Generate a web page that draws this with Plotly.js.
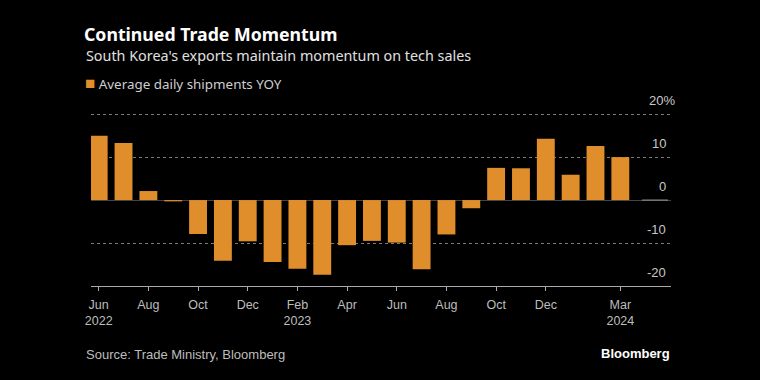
<!DOCTYPE html>
<html><head><meta charset="utf-8">
<script src="https://cdn.plot.ly/plotly-3.0.1.min.js"></script>
<style>html,body{margin:0;padding:0;background:#000;}</style>
</head><body><div id="chart" style="width:760px;height:380px;"></div>
<script>
const months = ["2022-06","2022-07","2022-08","2022-09","2022-10","2022-11","2022-12",
  "2023-01","2023-02","2023-03","2023-04","2023-05","2023-06","2023-07","2023-08",
  "2023-09","2023-10","2023-11","2023-12","2024-01","2024-02","2024-03"];
const shipmentsYoY = [15.0, 13.3, 2.1, -0.3, -7.9, -14.1, -9.6, -14.4, -16.0, -17.4, -10.5,
  -9.5, -9.9, -16.1, -8.0, -1.9, 7.5, 7.4, 14.3, 5.9, 12.6, 10.0];
const tickMonths = ["2022-06","2022-08","2022-10","2022-12","2023-02","2023-04","2023-06",
  "2023-08","2023-10","2023-12","2024-03"];
const tickLabels = ["Jun<br>2022","Aug","Oct","Dec","Feb<br>2023","Apr","Jun","Aug","Oct","Dec","Mar<br>2024"];
const yTicks = [-20, -10, 0, 10, 20];
const yTickLabels = ["-20", "-10", "0", "10", "20%"];
const seriesName = "Average daily shipments YOY";

const orange = "#E08E2B";
const sansNarrow = "Liberation Sans, Arial, sans-serif";
const sansWide = "Noto Sans, Open Sans, sans-serif";

const L = 91, R = 671, T = 112, B = 286;
const px2x = p => (p - L) / (R - L);
const px2y = p => (B - p) / (B - T);

const data = [{
  type: "bar",
  x: months,
  y: shipmentsYoY,
  name: seriesName,
  marker: {color: orange},
  hoverinfo: "x+y"
}];

const yLabelAnnotations = yTicks.map((v, i) => ({
  text: yTickLabels[i],
  xref: "paper", yref: "y",
  x: yTickLabels[i].includes("%") ? px2x(677) : px2x(668),
  y: v,
  xanchor: "right", yanchor: "bottom", yshift: 4,
  showarrow: false,
  font: {family: sansNarrow, size: 13, color: "#c8c8c8"}
}));

const layout = {
  width: 760, height: 380,
  paper_bgcolor: "#000", plot_bgcolor: "#000",
  margin: {l: L, r: 760 - R, t: T, b: 380 - B},
  showlegend: false,
  bargap: 0.28,
  title: {
    text: "<b>Continued Trade Momentum</b>",
    x: 84/760, xref: "container", xanchor: "left",
    y: 1 - 35/380, yref: "container", yanchor: "middle",
    font: {family: sansWide, size: 17.7, color: "#ffffff"}
  },
  xaxis: {
    type: "category",
    range: [-0.31, 23.04],
    tickvals: tickMonths,
    ticktext: tickLabels,
    ticks: "outside", ticklen: 4, tickcolor: "#aaaaaa", tickwidth: 1,
    ticklabelstandoff: 3,
    showline: true, linecolor: "#aaaaaa", linewidth: 1,
    showgrid: false, zeroline: false,
    tickfont: {family: sansNarrow, size: 12.5, color: "#bdbdbd"},
    fixedrange: true
  },
  yaxis: {
    side: "right",
    range: [-20, 20.5],
    tickvals: yTicks,
    showticklabels: false,
    ticks: "",
    showgrid: true, gridcolor: "#7a7a7a", griddash: "dot", gridwidth: 1,
    zeroline: true, zerolinecolor: "#444444", zerolinewidth: 1,
    showline: false,
    fixedrange: true
  },
  shapes: [{
    type: "line", xref: "paper", yref: "y",
    x0: px2x(642), x1: px2x(668), y0: 0, y1: 0,
    line: {color: "#9a9a9a", width: 1}
  }],
  annotations: [
    {text: "South Korea's exports maintain momentum on tech sales",
     xref: "paper", yref: "paper", x: px2x(84), y: px2y(56),
     xanchor: "left", yanchor: "middle", showarrow: false,
     font: {family: sansWide, size: 14.35, color: "#e0e0e0"}},
    {text: "<span style='color:" + orange + ";font-size:17px'>■</span> " + seriesName,
     xref: "paper", yref: "paper", x: px2x(83), y: px2y(82),
     xanchor: "left", yanchor: "middle", showarrow: false,
     font: {family: sansWide, size: 13.4, color: "#cfcfcf"}},
    {text: "Source: Trade Ministry, Bloomberg",
     xref: "paper", yref: "paper", x: px2x(84), y: px2y(354),
     xanchor: "left", yanchor: "middle", showarrow: false,
     font: {family: sansNarrow, size: 13, color: "#bdbdbd"}},
    {text: "<b>Bloomberg</b>",
     xref: "paper", yref: "paper", x: px2x(672), y: px2y(353),
     xanchor: "right", yanchor: "middle", showarrow: false,
     font: {family: sansNarrow, size: 13, color: "#ffffff"}}
  ].concat(yLabelAnnotations)
};

Plotly.newPlot("chart", data, layout, {displayModeBar: false, staticPlot: true});
</script></body></html>
